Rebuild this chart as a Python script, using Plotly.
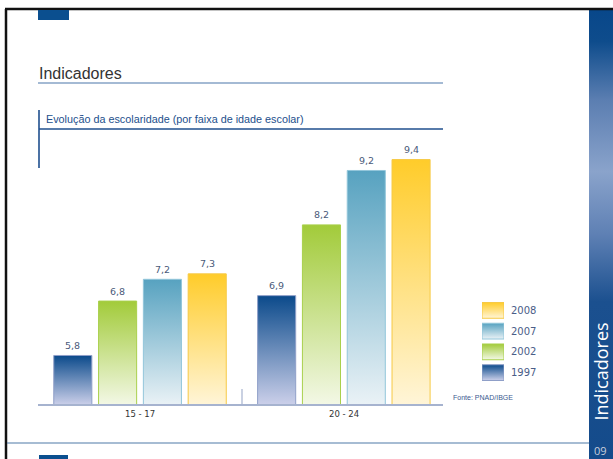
import plotly.graph_objects as go

# --- data -------------------------------------------------------------
age_groups = ["15 - 17", "20 - 24"]
years = ["1997", "2002", "2007", "2008"]
values_1997 = [5.8, 6.9]
values_2002 = [6.8, 8.2]
values_2007 = [7.2, 9.2]
values_2008 = [7.3, 9.4]
series_values = [values_1997, values_2002, values_2007, values_2008]

# --- styling ----------------------------------------------------------
W, H = 613, 459
# (top colour, bottom colour, outline) for each year
bar_styles = [
    ("#0b4a8b", "#ccd0ea", "#8f9fc8"),
    ("#a2cb3a", "#f3f8e6", "#a9d04c"),
    ("#57a2c0", "#eaf2f6", "#92c6da"),
    ("#ffcc2a", "#fff5d8", "#f6c945"),
]
group_pos = [0.0, 4.55]
bar_offsets = [-1.5, -0.5, 0.5, 1.5]
half_w = 0.425
Y_MIN, Y_MAX = 4.89, 9.76
X_MIN, X_MAX = -2.277, 6.763


def px_x(p):
    return p / W


def px_y(p):
    return (H - p) / H


def paper_text(x, y, text, font, xanchor="left", **kw):
    fig.add_annotation(x=px_x(x), y=px_y(y), xref="paper", yref="paper",
                       xanchor=xanchor, yanchor="middle", text=text,
                       showarrow=False, font=font, **kw)


fig = go.Figure()

# --- bars (vertical gradient fills) ----------------------------------
for j, (year, vals) in enumerate(zip(years, series_values)):
    top, bottom, edge = bar_styles[j]
    for i, v in enumerate(vals):
        c = group_pos[i] + bar_offsets[j]
        fig.add_trace(go.Scatter(
            x=[c - half_w, c + half_w, c + half_w, c - half_w, c - half_w],
            y=[Y_MIN, Y_MIN, v, v, Y_MIN],
            mode="lines", fill="toself",
            fillgradient=dict(type="vertical",
                              colorscale=[[0, bottom], [1, top]]),
            line=dict(color=edge, width=1),
            hoverinfo="skip", showlegend=False,
            xaxis="x", yaxis="y",
        ))
        fig.add_annotation(
            x=c, y=v, xref="x", yref="y", yshift=10,
            xanchor="center", yanchor="middle",
            text=f"{v:.1f}".replace(".", ","), showarrow=False,
            font=dict(family="DejaVu Sans", size=9.5, color="#4a5a7a"),
        )

# category labels centred under each group
for i, g in enumerate(age_groups):
    fig.add_annotation(
        x=group_pos[i], y=px_y(414), xref="x", yref="paper",
        xanchor="center", yanchor="middle",
        text=g, showarrow=False,
        font=dict(family="DejaVu Sans", size=8.5, color="#333333"),
    )

# --- legend swatches ---------------------------------------------------
for j, year in enumerate(years):
    top, bottom, edge = bar_styles[j]
    y0 = j + 0.12
    y1 = j + 0.88
    fig.add_trace(go.Scatter(
        x=[0, 1, 1, 0, 0], y=[y0, y0, y1, y1, y0],
        mode="lines", fill="toself",
        fillgradient=dict(type="vertical", colorscale=[[0, bottom], [1, top]]),
        line=dict(color=edge, width=1),
        hoverinfo="skip", showlegend=False, xaxis="x2", yaxis="y2",
    ))
    fig.add_annotation(
        x=1, y=(y0 + y1) / 2, xref="x2", yref="y2", xshift=5,
        xanchor="left", yanchor="middle", text=year, showarrow=False,
        font=dict(family="DejaVu Sans", size=10, color="#4a5d88"),
    )

# --- side band ---------------------------------------------------------
fig.add_trace(go.Scatter(
    x=[0, 1, 1, 0, 0], y=[0, 0, 1, 1, 0], mode="lines", fill="toself",
    fillgradient=dict(type="vertical", colorscale=[
        [0.0, "#144b8b"], [0.35, "#1b508f"], [0.5, "#5e80b4"],
        [0.64, "#8aa3cb"], [0.8, "#5b7eb1"], [0.93, "#0e4c8c"],
        [1.0, "#08478a"]]),
    line=dict(width=0), hoverinfo="skip", showlegend=False,
    xaxis="x3", yaxis="y3",
))

fig.update_layout(
    width=W, height=H,
    margin=dict(l=0, r=0, t=0, b=0),
    paper_bgcolor="white", plot_bgcolor="rgba(0,0,0,0)",
    showlegend=False,
    xaxis=dict(domain=[px_x(38), px_x(443)], range=[X_MIN, X_MAX],
               visible=False, fixedrange=True),
    yaxis=dict(domain=[px_y(405), px_y(140)], range=[Y_MIN, Y_MAX],
               visible=False, fixedrange=True),
    xaxis2=dict(domain=[px_x(482), px_x(504)], range=[0, 1],
                visible=False, anchor="y2"),
    yaxis2=dict(domain=[px_y(383), px_y(300)], range=[0, 4],
                visible=False, anchor="x2"),
    xaxis3=dict(domain=[px_x(589), 1], range=[0, 1],
                visible=False, anchor="y3"),
    yaxis3=dict(domain=[0, px_y(10)], range=[0, 1],
                visible=False, anchor="x3"),
)


def pline(x0, y0, x1, y1, color, width):
    return dict(type="line", xref="paper", yref="paper",
                x0=px_x(x0), x1=px_x(x1), y0=px_y(y0), y1=px_y(y1),
                line=dict(color=color, width=width))


def prect(x0, y0, x1, y1, color):
    return dict(type="rect", xref="paper", yref="paper",
                x0=px_x(x0), x1=px_x(x1), y0=px_y(y1), y1=px_y(y0),
                fillcolor=color, line=dict(width=0))


shapes = [
    # page frame
    pline(5, 9, 613, 9, "#111111", 2.5),
    pline(6, 9, 6, 459, "#111111", 2.5),
    # top and bottom tabs
    prect(38, 10, 69, 20, "#0b4f8f"),
    prect(39, 455, 68, 459, "#0b4f8f"),
    # footer rule
    pline(7, 443, 589, 443, "#4f7aa8", 1.2),
    # title rules
    pline(38, 83, 443, 83, "#4a76aa", 1.2),
    pline(39, 129, 443, 129, "#1f4f8e", 1.6),
    pline(39, 110, 39, 168, "#1f4f8e", 1.6),
    # chart baseline and group divider
    pline(38, 405, 443, 405, "#a6b3cf", 2),
    pline(242, 405, 242, 389, "#a6b3cf", 1.2),
]
fig.update_layout(shapes=shapes)

paper_text(37, 73, "Indicadores",
           dict(family="Liberation Sans Narrow, Liberation Sans", size=16,
                color="#333333"))
paper_text(44, 119, "Evolução da escolaridade (por faixa de idade escolar)",
           dict(family="Liberation Sans Narrow, Liberation Sans", size=10.8,
                color="#234f8c"))
paper_text(451, 397, "Fonte: PNAD/IBGE",
           dict(family="Liberation Sans Narrow, Liberation Sans", size=7,
                color="#3a5a90"))
paper_text(600.5, 372, "Indicadores",
           dict(family="Open Sans", size=18, color="white"),
           xanchor="center", textangle=-90, borderpad=0)
paper_text(600.5, 450, "09",
           dict(family="Open Sans", size=11, color="#c8cfdc"),
           xanchor="center", borderpad=0)

fig.write_html("out.html")
